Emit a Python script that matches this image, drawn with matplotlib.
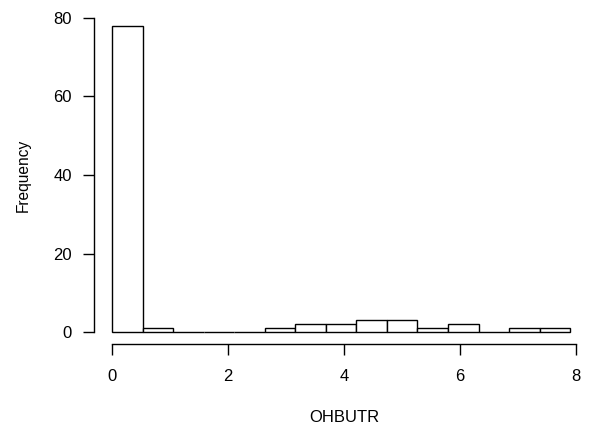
import matplotlib.pyplot as plt
import numpy as np

plt.rcParams['font.family'] = ['Liberation Sans', 'DejaVu Sans']

# 15 equal-width bins over the range of OHBUTR
bin_edges = np.linspace(0, 7.9, 16)
counts = [78, 1, 0, 0, 0, 1, 2, 2, 3, 3, 1, 2, 0, 1, 1]
x_ticks = [0, 2, 4, 6, 8]
y_ticks = [0, 20, 40, 60, 80]

fig = plt.figure(figsize=(5.91, 4.30), dpi=100)
W, H = 591, 430
ax = fig.add_axes([112 / W, (H - 332) / H, (576 - 112) / W, (332 - 18) / H])

widths = np.diff(bin_edges)
bars = ax.bar(bin_edges[:-1], counts, width=widths, align='edge',
              facecolor='white', edgecolor='black', linewidth=1.0)
for b in bars:
    b.set_clip_on(False)

ax.set_xlim(0, 8)
ax.set_ylim(0, 80)

# R-style detached axes
for s in ['top', 'right']:
    ax.spines[s].set_visible(False)
ax.spines['left'].set_position(('outward', 13))
ax.spines['bottom'].set_position(('outward', 8.5))
ax.spines['left'].set_bounds(0, 80)
ax.spines['bottom'].set_bounds(0, 8)
for s in ['left', 'bottom']:
    ax.spines[s].set_linewidth(1.0)

ax.set_xticks(x_ticks)
ax.set_yticks(y_ticks)
ax.tick_params(axis='both', length=8, width=1.0, labelsize=12)
ax.tick_params(axis='x', pad=10)
ax.tick_params(axis='y', pad=8)

ax.set_xlabel('OHBUTR', fontsize=12, labelpad=19)
ax.set_ylabel('Frequency', fontsize=11.2, labelpad=16)

fig.savefig('out.png', dpi=100)
